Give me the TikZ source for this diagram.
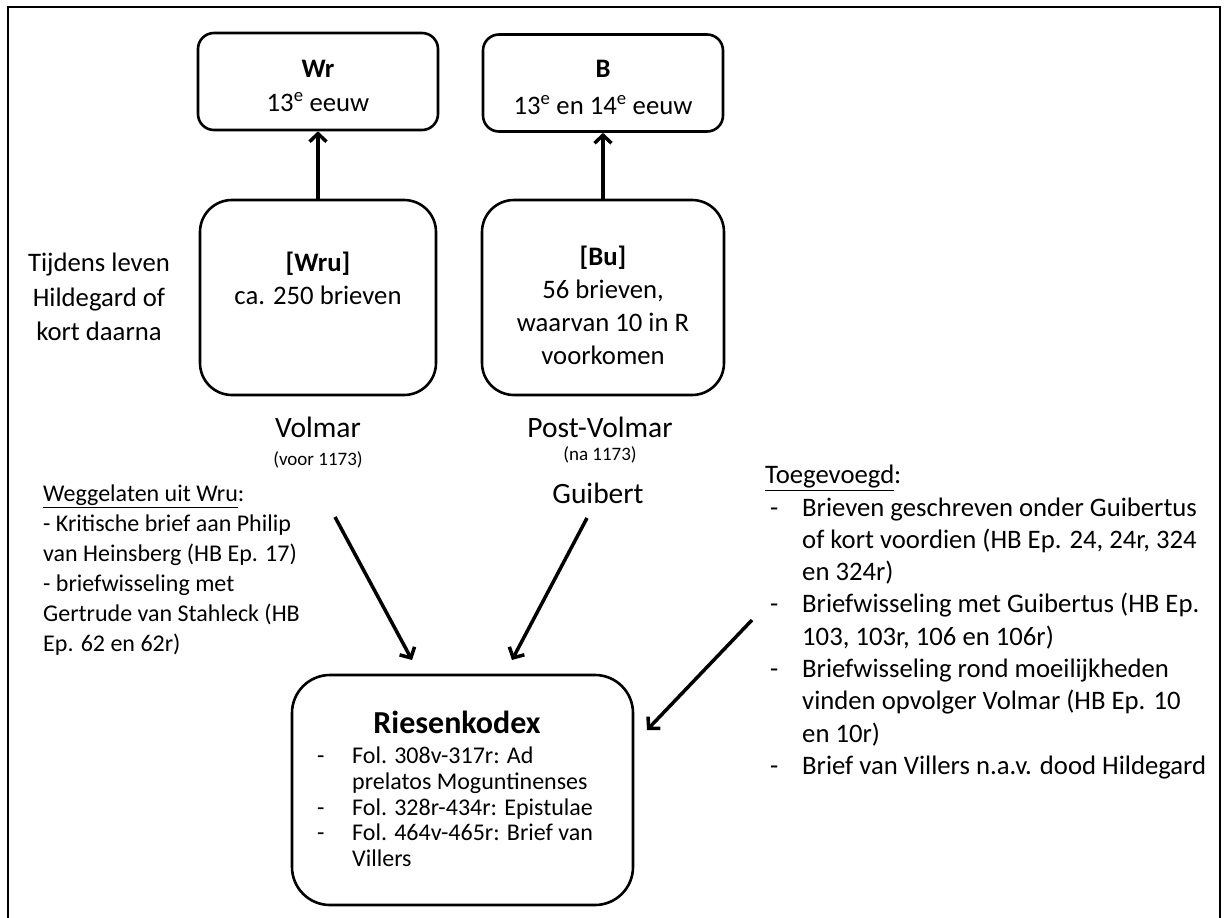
\documentclass[tikz,border=0pt]{standalone}
\usepackage{fontspec}
\setmainfont{Carlito}
\usetikzlibrary{arrows.meta}
\begin{document}
\begin{tikzpicture}[x=1pt,y=-1pt,
  boxs/.style={draw, line width=2.6pt, inner sep=0pt},
  arr/.style={line width=3.5pt, -{Straight Barb[length=8pt,width=17pt]}},
  txt/.style={inner sep=0pt, align=center, font=\fontsize{26.7}{33}\selectfont},
  big/.style={inner sep=0pt, align=center, font=\fontsize{29.5}{36}\selectfont},
  sml/.style={inner sep=0pt, font=\fontsize{19}{22}\selectfont},
  lst/.style={inner sep=0pt, align=left, anchor=north west}]
\useasboundingbox (0,0) rectangle (1227,918);
\begin{scope}
\clip (0,0) rectangle (1227,918);
\draw[line width=2.6pt] (8,950) -- (8,7) -- (1220,7) -- (1220,950);
\end{scope}

% boxes
\node[boxs, rounded corners=16pt, minimum width=240pt, minimum height=97pt] (wr) at (318,81.5) {};
\node[boxs, rounded corners=16pt, minimum width=240pt, minimum height=97pt] (b) at (603,83) {};
\node[boxs, rounded corners=32pt, minimum width=236pt, minimum height=195pt] (wru) at (318,297.5) {};
\node[boxs, rounded corners=32pt, minimum width=242pt, minimum height=195pt] (bu) at (603,297.5) {};
\node[boxs, rounded corners=38pt, minimum width=341pt, minimum height=230pt] (rk) at (462.5,790) {};

% box texts
\node[txt, anchor=north] (wrt) at (318,59.5) {\textbf{Wr}\\[1pt]13\textsuperscript{e} eeuw};
\node[txt, anchor=north] (bt) at (603,59.5) {\textbf{B}\\[4pt]13\textsuperscript{e} en 14\textsuperscript{e} eeuw};
\node[txt, anchor=north] (wrut) at (318,252) {\textbf{[Wru]}\\ca. 250 brieven};
\node[txt, anchor=north] (but) at (603,246) {\textbf{[Bu]}\\56 brieven,\\waarvan 10 in R\\voorkomen};
\node[inner sep=0pt, font=\fontsize{32}{38}\selectfont\bfseries] (rkt) at (457,722) {Riesenkodex};
\node[lst, font=\fontsize{24}{25.7}\selectfont] (rkl) at (317,747)
  {\makebox[35pt][l]{-}Fol. 308v-317r: Ad\\
   \hspace*{35pt}prelatos Moguntinenses\\
   \makebox[35pt][l]{-}Fol. 328r-434r: Epistulae\\
   \makebox[35pt][l]{-}Fol. 464v-465r: Brief van\\
   \hspace*{35pt}Villers};

% side labels
\node[inner sep=0pt, align=center, font=\fontsize{26.7}{34.5}\selectfont, anchor=north] (tijd) at (99,253) {Tijdens leven\\Hildegard of\\kort daarna};
\node[big] (volmar) at (318,427) {Volmar};
\node[sml] (voor) at (318,460) {(voor 1173)};
\node[big] (post) at (600,427) {Post-Volmar};
\node[sml] (na) at (600,455) {(na 1173)};
\node[big] (guib) at (598,493) {Guibert};

\node[lst, font=\fontsize{24}{30}\selectfont] (weg) at (43,485)
  {\underline{Weggelaten uit Wru}:\\
   - Kritische brief aan Philip\\
   van Heinsberg (HB Ep. 17)\\
   - briefwisseling met\\
   Gertrude van Stahleck (HB\\
   Ep. 62 en 62r)};

\node[lst, font=\fontsize{26.7}{32.3}\selectfont] (toe) at (765,465)
  {\underline{Toegevoegd}:\\
   \makebox[37pt][l]{\hspace*{5pt}-}Brieven geschreven onder Guibertus\\
   \hspace*{37pt}of kort voordien (HB Ep. 24, 24r, 324\\
   \hspace*{37pt}en 324r)\\
   \makebox[37pt][l]{\hspace*{5pt}-}Briefwisseling met Guibertus (HB Ep.\\
   \hspace*{37pt}103, 103r, 106 en 106r)\\
   \makebox[37pt][l]{\hspace*{5pt}-}Briefwisseling rond moeilijkheden\\
   \hspace*{37pt}vinden opvolger Volmar (HB Ep. 10\\
   \hspace*{37pt}en 10r)\\
   \makebox[37pt][l]{\hspace*{5pt}-}Brief van Villers n.a.v. dood Hildegard};

% connectors
\draw[arr] (wru.north) -- (wr.south);
\draw[arr] (bu.north) -- (b.south);
\coordinate (a1s) at (335,517); \coordinate (a1e) at (412,660);
\coordinate (a2s) at (587,518); \coordinate (a2e) at (512,660);
\coordinate (a3s) at (752,620); \coordinate (a3e) at (647,730);
\draw[arr] (a1s) -- (a1e);
\draw[arr] (a2s) -- (a2e);
\draw[arr] (a3s) -- (a3e);
\end{tikzpicture}
\end{document}
